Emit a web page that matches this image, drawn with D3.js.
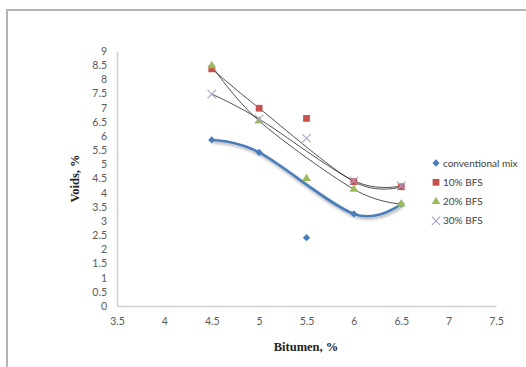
<!DOCTYPE html>
<html>
<head>
<meta charset="utf-8">
<script src="https://cdn.jsdelivr.net/npm/d3@7"></script>
<style>
  body { margin: 0; background: #fff; }
  svg { display: block; }
</style>
</head>
<body>
<div id="chart"></div>
<script>
// bitumen content, %
const bitumen = [4.5, 5, 5.5, 6, 6.5]
// voids, % per mix
const conventional = [5.86, 5.42, 2.41, 3.25, 3.6]
const bfs10 = [8.37, 6.98, 6.62, 4.39, 4.21]
const bfs20 = [8.48, 6.53, 4.5, 4.12, 3.6]
const bfs30 = [7.48, 6.6, 5.92, 4.42, 4.24]
// the smoothed lines skip the 5.5 % readings
const lineSkip = [5.5]

const xTicks = [3.5, 4, 4.5, 5, 5.5, 6, 6.5, 7, 7.5]
const yTicks = [0, 0.5, 1, 1.5, 2, 2.5, 3, 3.5, 4, 4.5, 5, 5.5, 6, 6.5, 7, 7.5, 8, 8.5, 9]
const seriesNames = ["conventional mix", "10% BFS", "20% BFS", "30% BFS"]

const width = 526
const height = 367
const plot = {left: 117, right: 496, top: 51, bottom: 306}

const CBLUE = "#4a7ebb"
const CRED = "#c8504d"
const CGREEN = "#9bbb59"
const CCROSS = "#a7a3c9"

const series = [
  {name: seriesNames[0], values: conventional, color: CBLUE, shape: "diamond", line: CBLUE, lw: 2.6},
  {name: seriesNames[1], values: bfs10, color: CRED, shape: "square", line: "#333", lw: 1},
  {name: seriesNames[2], values: bfs20, color: CGREEN, shape: "triangle", line: "#333", lw: 1},
  {name: seriesNames[3], values: bfs30, color: CCROSS, shape: "cross", line: "#333", lw: 1}
]

const svg = d3.select("#chart").append("svg")
  .attr("width", width)
  .attr("height", height)

// glow under the blue curve
const defs = svg.append("defs")
const f = defs.append("filter").attr("id", "glow")
  .attr("x", "-10%").attr("y", "-10%").attr("width", "120%").attr("height", "120%")
f.append("feGaussianBlur").attr("in", "SourceAlpha").attr("stdDeviation", 1.6).attr("result", "b")
f.append("feOffset").attr("in", "b").attr("dx", 0.5).attr("dy", 1.5).attr("result", "o")
f.append("feComponentTransfer").attr("in", "o").attr("result", "s")
  .append("feFuncA").attr("type", "linear").attr("slope", 0.35)
const fm = f.append("feMerge")
fm.append("feMergeNode").attr("in", "s")
fm.append("feMergeNode").attr("in", "SourceGraphic")

// frame edge
svg.append("path")
  .attr("d", `M7,${height} L7,10 L${width},10`)
  .attr("fill", "none")
  .attr("stroke", "#b4b4b4")
  .attr("stroke-width", 2)

const x = d3.scaleLinear().domain([3.5, 7.5]).range([plot.left, plot.right])
const y = d3.scaleLinear().domain([0, 9]).range([plot.bottom, plot.top])

// axes
const xAxis = svg.append("g")
  .attr("transform", `translate(0,${plot.bottom})`)
  .call(d3.axisBottom(x).tickValues(xTicks).tickSize(0).tickPadding(12).tickFormat(d3.format("")))
const yAxis = svg.append("g")
  .attr("transform", `translate(${plot.left},0)`)
  .call(d3.axisLeft(y).tickValues(yTicks).tickSize(0).tickPadding(10).tickFormat(d3.format("")))

for (const ax of [xAxis, yAxis]) {
  ax.select(".domain").attr("stroke", "#cfcfcf").attr("stroke-width", 1.5)
  ax.selectAll("text")
    .attr("fill", "#5a5a5a")
    .style("font-family", "Lato, 'Open Sans', sans-serif")
    .style("font-size", "10.5px")
}

svg.append("text")
  .attr("transform", `translate(79,${(plot.top + plot.bottom) / 2}) rotate(-90)`)
  .attr("text-anchor", "middle")
  .style("font-family", "'Liberation Serif', serif")
  .style("font-weight", "bold")
  .style("font-size", "12.5px")
  .attr("fill", "#222")
  .text("Voids, %")

svg.append("text")
  .attr("x", 306)
  .attr("y", 351)
  .attr("text-anchor", "middle")
  .style("font-family", "'Liberation Serif', serif")
  .style("font-weight", "bold")
  .style("font-size", "12.5px")
  .attr("fill", "#222")
  .text("Bitumen, %")

// smoothed lines
const line = d3.line()
  .x(d => x(d[0]))
  .y(d => y(d[1]))
  .curve(d3.curveCardinal.tension(0))

const lineG = svg.append("g")
// black ones first, blue on top
for (const s of series.slice(1).concat(series.slice(0, 1))) {
  const pts = bitumen.map((b, i) => [b, s.values[i]]).filter(p => !lineSkip.includes(p[0]))
  lineG.append("path")
    .attr("d", line(pts))
    .attr("fill", "none")
    .attr("stroke", s.line)
    .attr("stroke-width", s.lw)
    .attr("stroke-opacity", s.line == "#333" ? 0.85 : 1)
    .attr("filter", s.shape == "diamond" ? "url(#glow)" : null)
}

// markers
const symbolFor = {
  diamond: d3.symbol().type(d3.symbolDiamond2).size(34),
  square: d3.symbol().type(d3.symbolSquare2).size(58),
  triangle: d3.symbol().type(d3.symbolTriangle).size(32),
  cross: d3.symbol().type(d3.symbolX).size(48)
}

function drawMarker(g, s) {
  g.append("path")
    .attr("d", symbolFor[s.shape]())
    .attr("fill", s.shape == "cross" ? "none" : s.color)
    .attr("stroke", s.shape == "cross" ? s.color : "none")
    .attr("stroke-width", 1.1)
}

const markG = svg.append("g")
for (const s of series) {
  bitumen.forEach((b, i) => {
    const g = markG.append("g").attr("transform", `translate(${x(b)},${y(s.values[i])})`)
    drawMarker(g, s)
  })
}

// legend
const legend = svg.append("g").attr("transform", "translate(436,163)")
series.forEach((s, i) => {
  const row = legend.append("g").attr("transform", `translate(0,${i * 19.3})`)
  drawMarker(row, s)
  row.append("text")
    .attr("x", 7)
    .attr("y", 3.5)
    .attr("fill", "#404040")
    .style("font-family", "Lato, 'Open Sans', sans-serif")
    .style("font-size", "10px")
    .text(s.name)
})
</script>
</body>
</html>
